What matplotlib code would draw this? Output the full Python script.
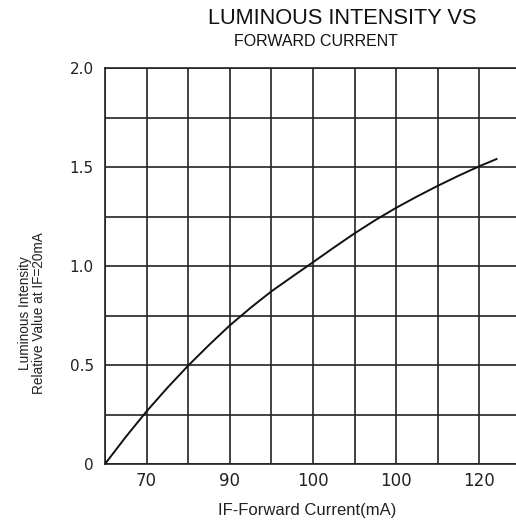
import matplotlib

matplotlib.use("Agg")
import matplotlib.pyplot as plt

# grid position along x (one step per vertical grid line) and relative intensity
current_pos = [0, 0.5, 1, 1.5, 2, 2.5, 3, 3.5, 4, 4.5, 5, 5.5, 6, 6.5, 7, 7.5, 8, 8.5, 9, 9.41]
intensity = [0, 0.137, 0.266, 0.385, 0.497, 0.601, 0.70, 0.789, 0.872, 0.946, 1.019,
             1.093, 1.165, 1.232, 1.294, 1.351, 1.405, 1.456, 1.504, 1.54]

x_tick_pos = [1, 3, 5, 7, 9]
x_tick_labels = ["70", "90", "100", "100", "120"]
y_tick_pos = [0, 0.5, 1.0, 1.5, 2.0]
y_tick_labels = ["0", "0.5", "1.0", "1.5", "2.0"]

INK = "#222222"

fig = plt.figure(figsize=(5.16, 5.22), dpi=100)
ax = fig.add_axes([105 / 516, 58 / 522, 1 - 105 / 516, 396 / 522])

ax.plot(current_pos, intensity, color="#111111", lw=1.4, zorder=3)

ax.set_xlim(0, 411 / 41.6)
ax.set_ylim(0, 2.0)
ax.set_xticks([i for i in range(0, 10)], minor=True)
ax.set_yticks([i * 0.25 for i in range(9)], minor=True)
ax.set_xticks(x_tick_pos, x_tick_labels)
ax.set_yticks(y_tick_pos, y_tick_labels)
ax.tick_params(which="both", length=0)
ax.tick_params(axis="x", pad=6, labelsize=12, colors=INK)
ax.tick_params(axis="y", pad=8, labelsize=11, colors=INK)
ax.grid(which="both", color=INK, lw=1.2)

for side in ("left", "bottom", "top"):
    ax.spines[side].set_color(INK)
    ax.spines[side].set_linewidth(1.2)
ax.spines["right"].set_visible(False)

fig.text(342 / 516, 1 - 18 / 522, "LUMINOUS INTENSITY VS", ha="center", va="center",
         fontsize=15.7, family="Liberation Sans", color="#111111")
fig.text(316 / 516, 1 - 41 / 522, "FORWARD CURRENT", ha="center", va="center",
         fontsize=11.5, family="Liberation Sans", color="#111111")
fig.text(307 / 516, 1 - 511 / 522, "IF-Forward Current(mA)", ha="center", va="center",
         fontsize=12, family="Liberation Sans", color=INK)
fig.text(32 / 516, 1 - 313 / 522, "Luminous Intensity\nRelative Value at IF=20mA",
         ha="center", va="center", rotation=90, multialignment="center",
         fontsize=9.8, family="Liberation Sans", color=INK, linespacing=1.0)

fig.savefig("out.png", dpi=100, facecolor="white")
